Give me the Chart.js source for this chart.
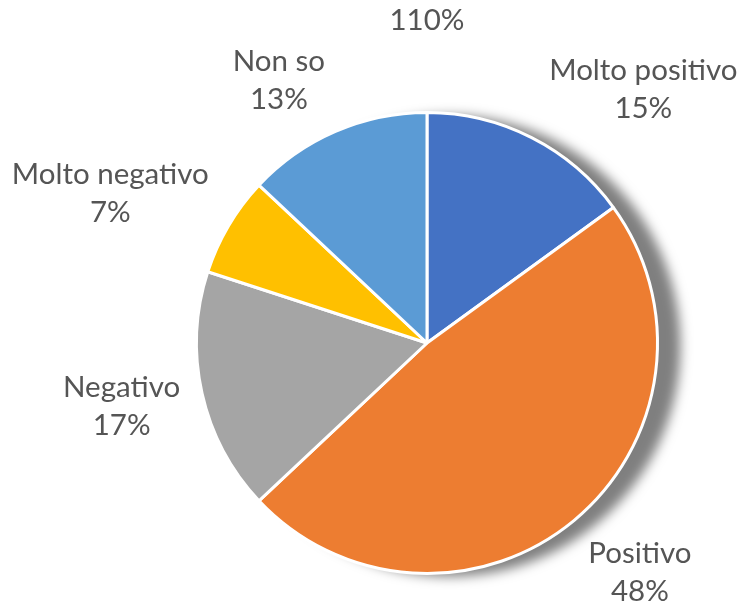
<!DOCTYPE html>
<html>
<head>
<meta charset="utf-8">
<script src="https://cdn.jsdelivr.net/npm/chart.js@4.4.1/dist/chart.umd.min.js"></script>
<style>
  html, body { margin: 0; padding: 0; background: #ffffff; }
  #wrap { width: 741px; height: 608px; }
</style>
</head>
<body>
<div id="wrap"><canvas id="pieChart"></canvas></div>
<script>
// Pie data (values in %)
const categories = ['Molto positivo', 'Positivo', 'Negativo', 'Molto negativo', 'Non so'];
const shares = [15, 48, 17, 7, 13];
const sliceColors = ['#4472C4', '#ED7D31', '#A5A5A5', '#FFC000', '#5B9BD5'];
const totalLabel = '110%';

// label placement relative to the outer edge at each slice's mid angle
const labelOffsets = [[111, -47], [65, 51], [-79, 13], [-117, -31], [-56, -50]];

Chart.defaults.font.family = 'Lato';
Chart.defaults.color = '#595959';

// soft shadow under the whole pie, to the right
const pieShadow = {
    id: 'pieShadow',
    beforeDatasetsDraw: (chart) => {
        const arc = chart.getDatasetMeta(0).data[0];
        if (!arc) return;
        const { ctx } = chart;
        ctx.save();
        ctx.beginPath();
        ctx.arc(arc.x, arc.y, arc.outerRadius, 0, Math.PI * 2);
        ctx.fillStyle = '#ffffff';
        ctx.shadowColor = 'rgba(0,0,0,0.5)';
        ctx.shadowBlur = 12;
        ctx.shadowOffsetX = 23;
        ctx.shadowOffsetY = 3;
        ctx.fill();
        ctx.restore();
    }
};

// category + percent labels outside the slices
const outsideLabels = {
    id: 'outsideLabels',
    afterDatasetsDraw: (chart) => {
        const { ctx } = chart;
        const meta = chart.getDatasetMeta(0);
        ctx.save();
        ctx.font = '29.5px Lato';
        ctx.fillStyle = '#555555';
        ctx.textAlign = 'center';
        ctx.textBaseline = 'middle';
        meta.data.forEach((arc, i) => {
            const mid = (arc.startAngle + arc.endAngle) / 2;
            const r = arc.outerRadius + 1.5;
            const x = arc.x + Math.cos(mid) * r + labelOffsets[i][0];
            const y = arc.y + Math.sin(mid) * r + labelOffsets[i][1];
            ctx.fillText(categories[i], x, y - 19);
            ctx.fillText(shares[i] + '%', x, y + 19);
        });
        // stray total label above the pie
        const a0 = meta.data[0];
        ctx.fillText(totalLabel, a0.x, 20);
        ctx.restore();
    }
};

new Chart(document.getElementById('pieChart').getContext('2d'), {
    type: 'pie',
    data: {
        labels: categories,
        datasets: [{
            data: shares,
            backgroundColor: sliceColors,
            borderColor: '#ffffff',
            borderWidth: 3
        }]
    },
    options: {
        responsive: true,
        maintainAspectRatio: false,
        animation: false,
        events: [],
        layout: { padding: { left: 195, right: 82, top: 111, bottom: 33 } },
        plugins: {
            legend: { display: false },
            title: { display: false },
            tooltip: { enabled: false }
        }
    },
    plugins: [pieShadow, outsideLabels]
});
</script>
</body>
</html>
